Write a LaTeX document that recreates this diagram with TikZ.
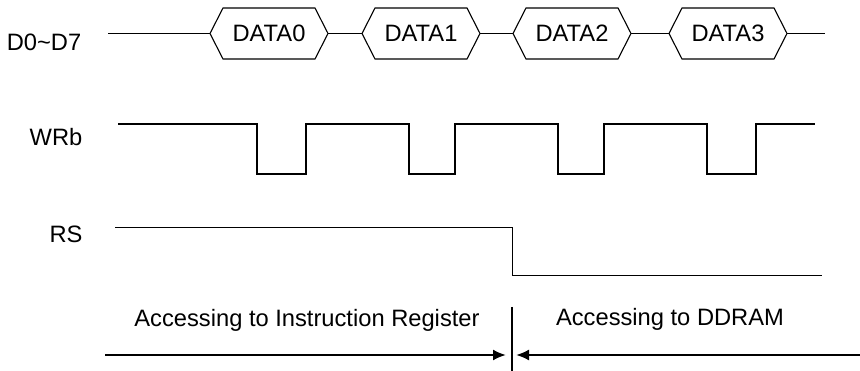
\documentclass[tikz,border=0pt]{standalone}
\usepackage{fontspec}
\setmainfont{Liberation Sans}
\usepackage{tikz}
\usetikzlibrary{calc}
\usetikzlibrary{arrows.meta,positioning}
\tikzset{
  sig/.style={inner sep=0pt,font=\fontsize{23.7}{28}\selectfont},
  hex/.style={line width=1.1pt},
  wave/.style={line width=1.3pt},
  span/.style={line width=2pt,-{Latex[length=13pt,width=11pt]}},
}

\begin{document}
\begin{tikzpicture}[x=1pt,y=-1pt]
\useasboundingbox (0,0) rectangle (860,371);
% labels
\node[sig] (bus) at (44,42) {D0\char`\~D7};
\node[sig] (wrb) at (56,137) {WRb};
\node[sig] (rs) at (66,234) {RS};
% data bus
\foreach \x/\n in {210/0,362/1,513/2,669/3}{
  \coordinate (l\n) at (\x,33.5);
  \coordinate (r\n) at (\x+118,33.5);
  \draw[hex] (l\n) -- ++(13,-25.5) -- ++(92,0) -- (r\n) -- ++(-13,25.5) -- ++(-92,0) -- cycle;
  \node[sig] (d\n) at (\x+59,33.5) {DATA\n};
}
\coordinate (busin) at (108,33.5);
\coordinate (busout) at (825,33.5);
\draw (busin) -- (l0);
\draw (r0) -- (l1);
\draw (r1) -- (l2);
\draw (r2) -- (l3);
\draw (r3) -- (busout);
% write strobe
\draw[wave] (118,124) -- (257,124) -- (257,174) -- (306,174) -- (306,124)
  -- (409,124) -- (409,174) -- (455,174) -- (455,124)
  -- (558,124) -- (558,174) -- (604,174) -- (604,124)
  -- (707,124) -- (707,174) -- (756,174) -- (756,124) -- (815,124);
% register select
\draw[line width=1pt] (115,228) -- (512,228) -- (512,276) -- (822,276);
% access ranges
\node[sig,anchor=base] (accir) at (307,327) {Accessing to Instruction Register};
\node[sig,anchor=base] (accdd) at (670,326) {Accessing to DDRAM};
\coordinate (top) at (512,307);
\coordinate (bot) at (512,371);
\draw[line width=1.5pt] (top) -- (bot);
\coordinate (irl) at (105,355);
\coordinate (irr) at (506,355);
\coordinate (ddl) at (516,355);
\coordinate (ddr) at (860,355);
\draw[span] (irl) -- (irr);
\draw[span] (ddr) -- (ddl);
\end{tikzpicture}
\end{document}
